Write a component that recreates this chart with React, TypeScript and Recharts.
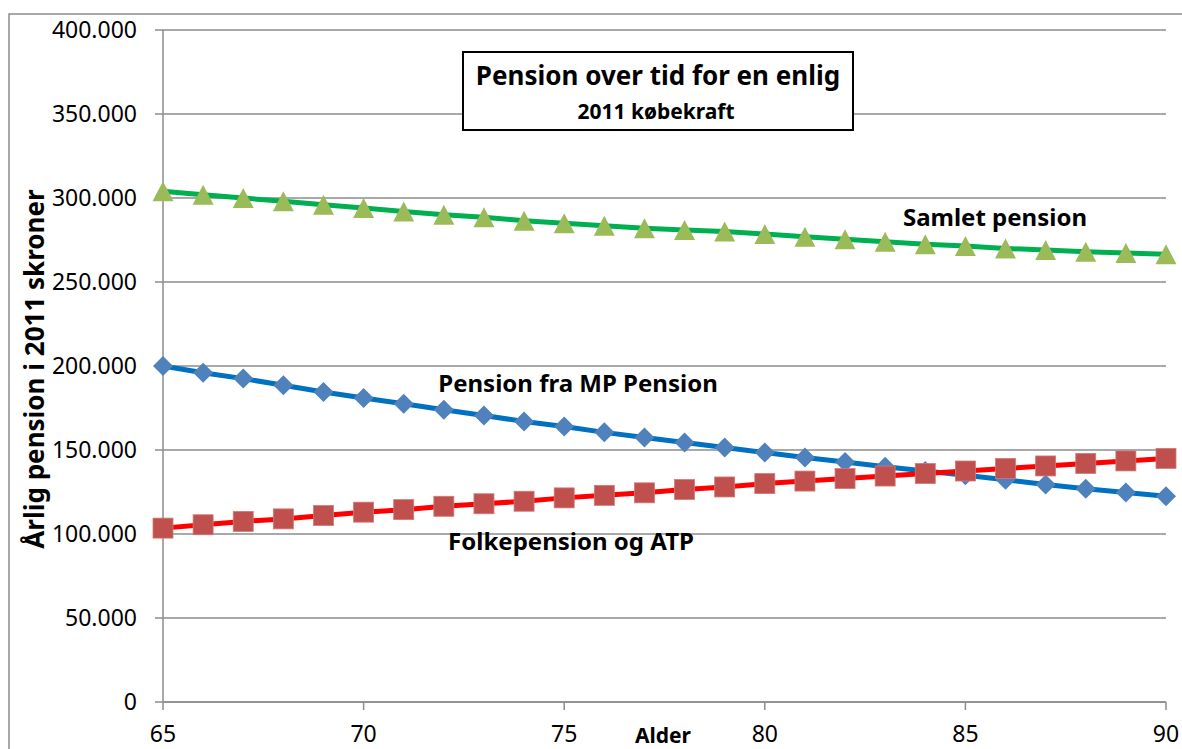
import React from "react";
import { LineChart, Line, XAxis, YAxis, CartesianGrid } from "recharts";

const ages = [65, 66, 67, 68, 69, 70, 71, 72, 73, 74, 75, 76, 77, 78, 79, 80, 81, 82, 83, 84, 85, 86, 87, 88, 89, 90];
const mpPension = [200000, 196000, 192500, 188500, 184500, 181000, 177500, 174000, 170500, 167000, 164000, 160500, 157500, 154500, 151500, 148500, 145500, 142800, 140000, 137500, 135000, 132300, 129500, 127000, 124700, 122500];
const folkepension = [103500, 105500, 107500, 109000, 111000, 113000, 114500, 116500, 118000, 119500, 121500, 123000, 124500, 126500, 128000, 130000, 131500, 133000, 134500, 136000, 137500, 139000, 140500, 142000, 143500, 145000];
const samlet = [304000, 302000, 300000, 298000, 296000, 294000, 292000, 290000, 288500, 286500, 285000, 283500, 282000, 281000, 280000, 278500, 277000, 275500, 274000, 272500, 271500, 270000, 269000, 268000, 267300, 266500];
const xTicks = [65, 70, 75, 80, 85, 90];
const yTicks = [0, 50000, 100000, 150000, 200000, 250000, 300000, 350000, 400000];

const data = ages.map((a, i) => ({ age: a, mp: mpPension[i], folk: folkepension[i], samlet: samlet[i] }));

const FONT = "'Noto Sans', 'Open Sans', sans-serif";
const fmt = (v: number) => String(v).replace(/\B(?=(\d{3})+(?!\d))/g, ".");

const Triangle = (p: any) => {
  const { cx, cy, index } = p;
  if (cx == null || cy == null) return <g key={"t" + index} />;
  const w = 10.5, h = 10;
  return <polygon key={"t" + index} points={`${cx},${cy - h} ${cx + w},${cy + h} ${cx - w},${cy + h}`} fill="#9BBB59" />;
};
const Diamond = (p: any) => {
  const { cx, cy, index } = p;
  if (cx == null || cy == null) return <g key={"d" + index} />;
  const r = 10;
  return <polygon key={"d" + index} points={`${cx},${cy - r} ${cx + r},${cy} ${cx},${cy + r} ${cx - r},${cy}`} fill="#4F81BD" />;
};
const Square = (p: any) => {
  const { cx, cy, index } = p;
  if (cx == null || cy == null) return <g key={"s" + index} />;
  const r = 10;
  return <rect key={"s" + index} x={cx - r} y={cy - r} width={2 * r} height={2 * r} fill="#C0504D" stroke="#D07A77" strokeWidth={0.8} />;
};

export default function App() {
  return (
    <div style={{ position: "fixed", left: 0, top: 0, width: 1182, height: 749, overflow: "hidden", background: "#fff", fontFamily: FONT }}>
      <LineChart width={1182} height={749} data={data} margin={{ top: 30, right: 16, bottom: 7, left: 0 }}>
        <CartesianGrid vertical={false} stroke="#8C8C8C" strokeWidth={1.5} />
        <XAxis
          dataKey="age"
          type="number"
          domain={[65, 90]}
          ticks={xTicks}
          height={40}
          stroke="#8C8C8C"
          strokeWidth={1.5}
          tickSize={8}
          tickMargin={16}
          tick={{ fill: "#000", fontSize: 23, fontFamily: FONT }}
          interval={0}
        />
        <YAxis
          type="number"
          domain={[0, 400000]}
          ticks={yTicks}
          width={163}
          stroke="#8C8C8C"
          strokeWidth={1.5}
          tickSize={8}
          tickMargin={18}
          tickFormatter={fmt}
          tick={{ fill: "#000", fontSize: 23, fontFamily: FONT }}
          interval={0}
        />
        <Line dataKey="mp" type="linear" stroke="#0070C0" strokeWidth={5} dot={Diamond} isAnimationActive={false} />
        <Line dataKey="folk" type="linear" stroke="#FF0000" strokeWidth={5} dot={Square} isAnimationActive={false} />
        <Line dataKey="samlet" type="linear" stroke="#00B050" strokeWidth={5} dot={Triangle} isAnimationActive={false} />
      </LineChart>
      <svg width={1182} height={749} style={{ position: "absolute", left: 0, top: 0, pointerEvents: "none" }}>
        <rect x={9} y={14} width={1180} height={760} fill="none" stroke="#8C8C8C" strokeWidth={1.5} />
        <rect x={463} y={52} width={390} height={78} fill="#fff" stroke="#000" strokeWidth={2} />
        <text x={658} y={85} textAnchor="middle" fontFamily={FONT} fontWeight="bold" fontSize={26} fill="#000">Pension over tid for en enlig</text>
        <text x={656} y={119} textAnchor="middle" fontFamily={FONT} fontWeight="bold" fontSize={21} fill="#000">2011 købekraft</text>
        <text x={995} y={226} textAnchor="middle" fontFamily={FONT} fontWeight="bold" fontSize={24} fill="#000">Samlet pension</text>
        <text x={578} y={392} textAnchor="middle" fontFamily={FONT} fontWeight="bold" fontSize={24} fill="#000">Pension fra MP Pension</text>
        <text x={571} y={550} textAnchor="middle" fontFamily={FONT} fontWeight="bold" fontSize={24} fill="#000">Folkepension og ATP</text>
        <text x={663} y={743} textAnchor="middle" fontFamily={FONT} fontWeight="bold" fontSize={21} fill="#000">Alder</text>
        <text transform="translate(44 369) rotate(-90)" textAnchor="middle" fontFamily={FONT} fontWeight="bold" fontSize={26} fill="#000">Årlig pension i 2011 skroner</text>
      </svg>
    </div>
  );
}
